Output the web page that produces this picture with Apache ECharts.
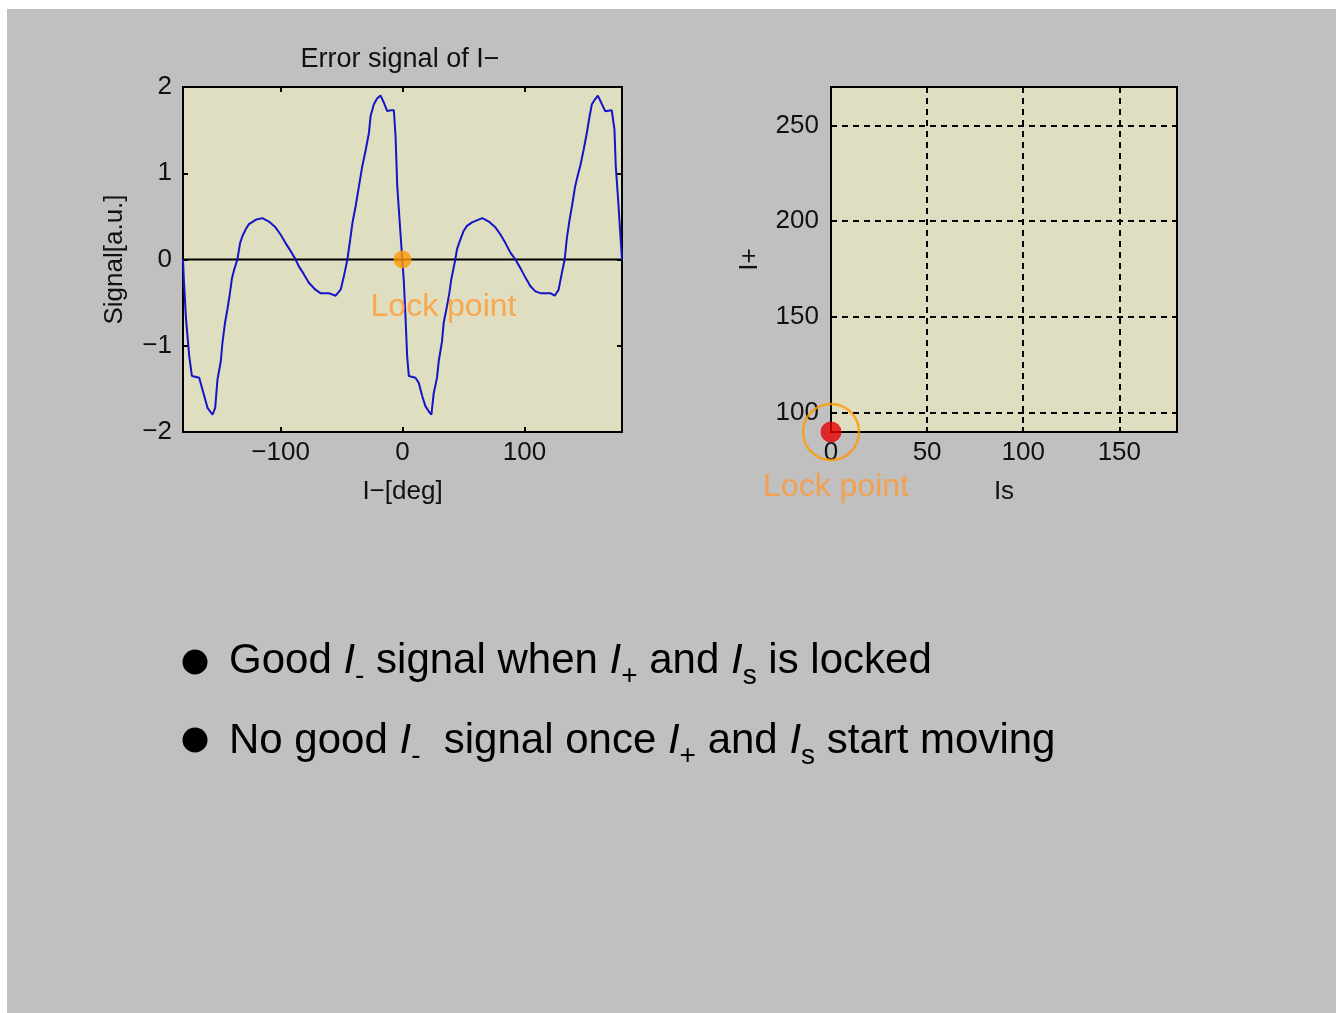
<!DOCTYPE html>
<html>
<head>
<meta charset="utf-8">
<title>Error signal of I−</title>
<script src="https://cdn.jsdelivr.net/npm/echarts@6/dist/echarts.min.js"></script>
<style>
  html, body { margin: 0; padding: 0; background: #ffffff; }
  #slide { position: absolute; left: 7px; top: 9px; width: 1329px; height: 1004px; background: #c0c0c0; }
  #chart { position: absolute; left: 0; top: 0; width: 1336px; height: 1013px; }
</style>
</head>
<body>
<div id="slide"></div>
<div id="chart"></div>
<script>
// Error signal of I− versus the I− phase (degrees)
const signalPhase = [
  -180.0, -179.3, -177.6, -174.9, -172.7, -166.7, -164.0, -159.9, -155.8, -153.6,
  -151.7, -149.0, -147.7, -145.5, -143.6, -141.7, -140.0, -138.1, -135.4, -133.2,
  -131.3, -128.6, -125.9, -120.4, -115.0, -109.5, -104.0, -100.0, -95.9, -91.8,
  -87.7, -85.0, -80.9, -76.8, -71.4, -67.3, -60.5, -54.8, -50.7, -48.0,
  -45.2, -42.5, -41.1, -38.4, -35.7, -33.0, -30.2, -27.5, -26.2, -23.5,
  -20.7, -18.0, -15.3, -12.5, -9.8, -7.1, -5.7, -4.3, -1.6, -0.2,
  1.0, 2.5, 3.8, 5.2, 10.6, 13.3, 16.1, 18.8, 21.5, 23.7,
  25.6, 28.3, 29.7, 32.4, 33.8, 36.5, 38.4, 40.0, 43.3, 44.7,
  47.4, 50.1, 52.9, 57.0, 65.4, 70.8, 76.3, 80.3, 84.4, 88.5,
  92.6, 96.7, 100.8, 104.9, 109.0, 113.0, 121.2, 124.8, 128.0, 130.2,
  133.0, 134.8, 137.0, 139.0, 141.6, 143.8, 145.7, 148.5, 151.2, 153.4,
  155.3, 157.5, 160.2, 162.9, 166.2, 171.6, 173.8, 174.9, 177.0, 179.0,
  180.0
];
const signalValue = [
  0.00, -0.23, -0.68, -1.12, -1.35, -1.37, -1.51, -1.72, -1.80, -1.72,
  -1.39, -1.18, -0.97, -0.73, -0.58, -0.41, -0.23, -0.12, 0.00, 0.19,
  0.27, 0.35, 0.41, 0.46, 0.48, 0.44, 0.37, 0.29, 0.19, 0.10,
  0.00, -0.08, -0.17, -0.27, -0.35, -0.39, -0.39, -0.42, -0.35, -0.19,
  0.00, 0.27, 0.42, 0.62, 0.85, 1.08, 1.27, 1.47, 1.66, 1.80,
  1.87, 1.90, 1.82, 1.72, 1.73, 1.73, 1.43, 0.85, 0.29, 0.00,
  -0.23, -0.68, -1.12, -1.35, -1.37, -1.43, -1.58, -1.70, -1.76, -1.80,
  -1.55, -1.37, -1.18, -0.95, -0.73, -0.54, -0.39, -0.23, 0.00, 0.12,
  0.23, 0.33, 0.39, 0.43, 0.48, 0.44, 0.37, 0.29, 0.19, 0.08,
  0.00, -0.10, -0.21, -0.31, -0.37, -0.39, -0.39, -0.42, -0.35, -0.19,
  0.00, 0.25, 0.46, 0.62, 0.85, 0.98, 1.08, 1.27, 1.47, 1.66,
  1.80, 1.85, 1.90, 1.82, 1.72, 1.73, 1.51, 1.08, 0.66, 0.21,
  0.00
];

// Reference (zero) line across the phase range
const zeroLinePhase = [-180, 180];
const zeroLineValue = [0, 0];

// Lock points: I− phase / signal, and Is / I+ position
const lockPhase = [0];
const lockSignal = [0];
const lockIs = [0];
const lockIplus = [90];

// Axis ranges and tick positions
const phaseRange = [-180, 180];
const signalRange = [-2, 2];
const isRange = [0, 180];
const iplusRange = [90, 270];
const phaseTicks = [-100, 0, 100];
const isTicks = [0, 50, 100, 150];
const iplusTicks = [100, 150, 200, 250];

// Bullet text
const bulletLines = [
  '{n|Good }{i|I}{s|-}{n| signal when }{i|I}{s|+}{n| and }{i|I}{s|s}{n| is locked}',
  '{n|No good }{i|I}{s|-}{n|  signal once }{i|I}{s|+}{n| and }{i|I}{s|s}{n| start moving}'
];

const FONT = "'Liberation Sans', Arial, sans-serif";
const INK = '#111111';
const PLOT_BG = '#dfdec0';
const ORANGE = '#ff9900';

const minusFmt = v => (v < 0 ? '\u2212' + Math.abs(v) : String(v));
const tickLine = { color: '#000', width: 2 };
const labelFont = { fontFamily: FONT, fontSize: 26, color: INK };
const nameFont = { fontFamily: FONT, fontSize: 26, color: INK };

function mainAxis(gridIndex, position, range, extra) {
  return Object.assign({
    type: 'value', gridIndex, position, min: range[0], max: range[1],
    axisLine: { show: false, onZero: false },
    splitLine: { show: false }
  }, extra);
}
function mirrorAxis(gridIndex, position, range, tickOpts) {
  return {
    type: 'value', gridIndex, position, min: range[0], max: range[1],
    axisLine: { show: false, onZero: false },
    axisTick: Object.assign({ show: true, inside: true, length: 5, lineStyle: tickLine }, tickOpts),
    axisLabel: { show: false },
    splitLine: { show: false }
  };
}

const dashed = { show: true, lineStyle: { color: '#000', width: 2, type: [6, 5] } };

const chart = echarts.init(document.getElementById('chart'), null, { renderer: 'canvas' });

chart.setOption({
  animation: false,
  backgroundColor: 'transparent',
  grid: [
    { left: 183, top: 87, width: 439, height: 345, show: true, backgroundColor: PLOT_BG, borderColor: '#000', borderWidth: 2 },
    { left: 831, top: 87, width: 346, height: 345, show: true, backgroundColor: PLOT_BG, borderColor: '#000', borderWidth: 2 }
  ],
  xAxis: [
    mainAxis(0, 'bottom', phaseRange, {
      axisTick: { show: true, inside: true, length: 5, customValues: phaseTicks, lineStyle: tickLine },
      axisLabel: Object.assign({ customValues: phaseTicks, formatter: minusFmt, margin: 8 }, labelFont),
      name: 'I\u2212[deg]', nameLocation: 'middle', nameGap: 47, nameTextStyle: nameFont
    }),
    mirrorAxis(0, 'top', phaseRange, { customValues: phaseTicks }),
    mainAxis(1, 'bottom', isRange, {
      axisTick: { show: true, inside: true, length: 5, customValues: isTicks, lineStyle: tickLine },
      axisLabel: Object.assign({ customValues: isTicks, margin: 8 }, labelFont),
      splitLine: dashed,
      name: 'Is', nameLocation: 'middle', nameGap: 47, nameTextStyle: nameFont
    }),
    mirrorAxis(1, 'top', isRange, { customValues: isTicks })
  ],
  yAxis: [
    mainAxis(0, 'left', signalRange, {
      interval: 1,
      axisTick: { show: true, inside: true, length: 5, lineStyle: tickLine },
      axisLabel: Object.assign({ formatter: minusFmt, margin: 11 }, labelFont),
      name: 'Signal[a.u.]', nameLocation: 'middle', nameGap: 55, nameTextStyle: nameFont
    }),
    mirrorAxis(0, 'right', signalRange, { interval: 1 }),
    mainAxis(1, 'left', iplusRange, {
      axisTick: { show: true, inside: true, length: 5, customValues: iplusTicks, lineStyle: tickLine },
      axisLabel: Object.assign({ customValues: iplusTicks, margin: 12 }, labelFont),
      splitLine: dashed,
      name: 'I+', nameLocation: 'middle', nameGap: 68, nameTextStyle: nameFont
    }),
    mirrorAxis(1, 'right', iplusRange, { customValues: iplusTicks })
  ],
  series: [
    {
      name: 'zero', type: 'line', xAxisIndex: 0, yAxisIndex: 0, z: 2,
      data: zeroLinePhase.map((x, i) => [x, zeroLineValue[i]]),
      symbol: 'none', lineStyle: { color: '#000', width: 2 }, silent: true
    },
    {
      name: 'Error signal', type: 'line', xAxisIndex: 0, yAxisIndex: 0, z: 3,
      data: signalPhase.map((x, i) => [x, signalValue[i]]),
      symbol: 'none', lineStyle: { color: '#1414c8', width: 2 }
    },
    {
      name: 'Lock point', type: 'scatter', xAxisIndex: 0, yAxisIndex: 0, z: 4, clip: false,
      data: lockPhase.map((x, i) => [x, lockSignal[i]]),
      symbol: 'circle', symbolSize: 18, itemStyle: { color: ORANGE },
      label: {
        show: true, position: 'bottom', distance: 23, offset: [41, 0],
        formatter: 'Lock point', color: '#ff9933', fontFamily: FONT, fontSize: 32
      }
    },
    {
      name: 'Position', type: 'scatter', xAxisIndex: 2, yAxisIndex: 2, z: 4, clip: false,
      data: lockIs.map((x, i) => [x, lockIplus[i]]),
      symbol: 'circle', symbolSize: 21, itemStyle: { color: '#e60000' }
    },
    {
      name: 'Lock ring', type: 'scatter', xAxisIndex: 2, yAxisIndex: 2, z: 5, clip: false,
      data: lockIs.map((x, i) => [x, lockIplus[i]]),
      symbol: 'circle', symbolSize: 56,
      itemStyle: { color: 'rgba(0,0,0,0)', borderColor: ORANGE, borderWidth: 2.5 },
      label: {
        show: true, position: 'bottom', distance: 10, offset: [5, 0],
        formatter: 'Lock point', color: '#ff9933', fontFamily: FONT, fontSize: 32
      }
    }
  ],
  graphic: [
    {
      type: 'text', x: 400, y: 60,
      style: { text: 'Error signal of I\u2212', align: 'center', verticalAlign: 'middle', fill: INK, fontFamily: FONT, fontSize: 27 }
    },
    { type: 'circle', shape: { cx: 195, cy: 662, r: 12.5 }, style: { fill: '#000' } },
    { type: 'circle', shape: { cx: 195, cy: 740, r: 12.5 }, style: { fill: '#000' } }
  ].concat(bulletLines.map((line, k) => ({
    type: 'text', x: 229, y: 632 + k * 80,
    style: {
      text: line, align: 'left', verticalAlign: 'top',
      rich: {
        n: { fontSize: 42, fontFamily: FONT, fill: '#000', lineHeight: 58, verticalAlign: 'middle' },
        i: { fontSize: 42, fontFamily: FONT, fontStyle: 'italic', fill: '#000', lineHeight: 58, verticalAlign: 'middle' },
        s: { fontSize: 28, fontFamily: FONT, fill: '#000', lineHeight: 28, verticalAlign: 'bottom' }
      }
    }
  })))
});
</script>
</body>
</html>
